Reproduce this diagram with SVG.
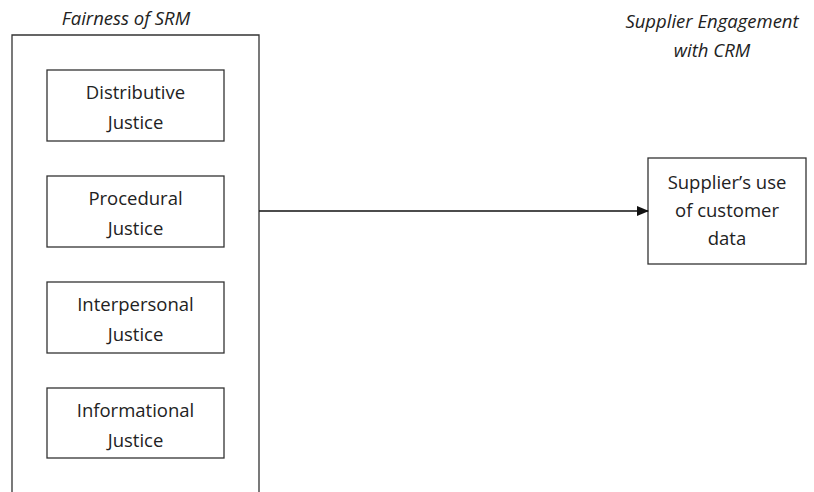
<svg xmlns="http://www.w3.org/2000/svg" width="814" height="492" viewBox="0 0 814 492">
<defs>
<style>
.box{fill:#fff;stroke:#333;stroke-width:1.3}
.t{font-family:"Open Sans","Noto Sans",sans-serif;font-size:18.5px;fill:#222;text-anchor:middle}
.i{font-style:italic}
.c{stroke:#111;stroke-width:1.3;fill:none}
</style>
<marker id="ah" markerWidth="12" markerHeight="10" refX="11" refY="5" orient="auto" markerUnits="userSpaceOnUse">
<path d="M0,0 L12,5 L0,10 Z" fill="#111"/>
</marker>
</defs>
<rect width="814" height="492" fill="#fff"/>
<g id="fairness">
<path class="box" d="M12,496 L12,35 L259,35 L259,496"/>
<text class="t i" x="126" y="25">Fairness of SRM</text>
</g>
<g id="distributive">
<rect class="box" x="47" y="70" width="177" height="71"/>
<text class="t" x="135.5" y="99">Distributive</text>
<text class="t" x="135.5" y="129">Justice</text>
</g>
<g id="procedural">
<rect class="box" x="47" y="176" width="177" height="71"/>
<text class="t" x="135.5" y="205">Procedural</text>
<text class="t" x="135.5" y="235">Justice</text>
</g>
<g id="interpersonal">
<rect class="box" x="47" y="282" width="177" height="71"/>
<text class="t" x="135.5" y="311">Interpersonal</text>
<text class="t" x="135.5" y="341">Justice</text>
</g>
<g id="informational">
<rect class="box" x="47" y="388" width="177" height="70"/>
<text class="t" x="135.5" y="417">Informational</text>
<text class="t" x="135.5" y="447">Justice</text>
</g>
<g id="engagement-title">
<text class="t i" x="712" y="28">Supplier Engagement</text>
<text class="t i" x="712" y="57">with CRM</text>
</g>
<g id="supplier-use">
<rect class="box" x="648" y="158" width="158" height="106"/>
<text class="t" x="727" y="189">Supplier’s use</text>
<text class="t" x="727" y="217">of customer</text>
<text class="t" x="727" y="245">data</text>
</g>
<g id="connectors">
<line class="c" x1="259" y1="211" x2="648" y2="211" marker-end="url(#ah)"/>
</g>
</svg>
